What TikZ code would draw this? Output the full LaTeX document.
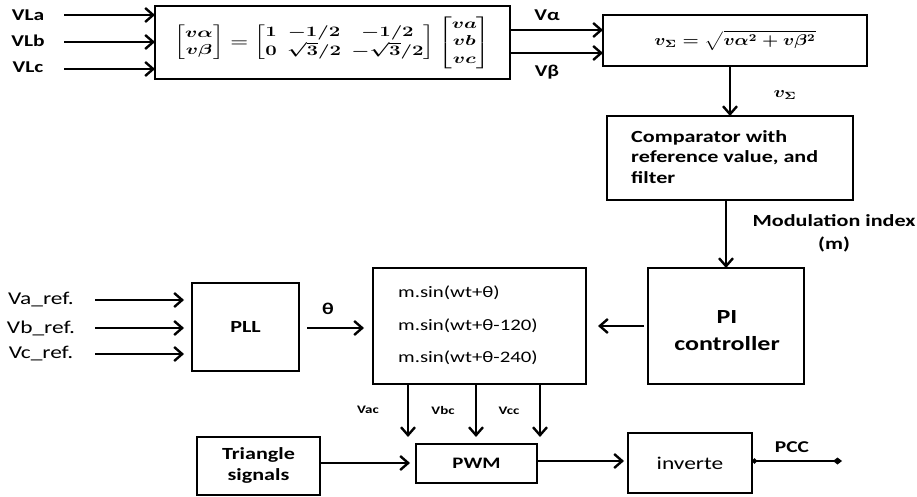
\documentclass[tikz,border=0pt]{standalone}
\usepackage{amsmath}
\usepackage{graphicx}
\usepackage{fontspec}
\setmainfont{Carlito}[FakeStretch=1.3]
\usetikzlibrary{arrows.meta}
\begin{document}
\begin{tikzpicture}[x=1pt,y=-1pt,
  blk/.style={draw,line width=2.4pt,inner sep=0pt,outer sep=0pt},
  lbl/.style={font=\fontsize{16.5}{19}\selectfont\bfseries,inner sep=0pt},
  rlbl/.style={font=\fontsize{18}{21}\selectfont,inner sep=0pt},
  mlbl/.style={font=\fontsize{16}{19}\selectfont,inner sep=0pt},
  slbl/.style={font=\fontsize{11.5}{13}\selectfont\bfseries,inner sep=0pt},
  arr/.style={line width=2.4pt,-{Straight Barb[length=8pt,width=14pt]}}]
\useasboundingbox (0,0) rectangle (917,497);
% top row
\node[blk,minimum width=355pt,minimum height=73pt] (M) at (332.5,42.5)
 {\fontsize{12}{14.4}\selectfont\setlength\arraycolsep{3pt}\scalebox{1.7}[1.2]{\boldmath$\begin{bmatrix} v\alpha\\ v\beta\end{bmatrix}=\begin{bmatrix}1 & -1/2 & -1/2\\ 0 & \sqrt{3}/2 & -\sqrt{3}/2\end{bmatrix}\begin{bmatrix} va\\ vb\\ vc\end{bmatrix}$}};
\node[lbl] (la) at (28,15) {VLa};
\node[lbl] (lb) at (28,41) {VLb};
\node[lbl] (lc) at (28,67) {VLc};
\coordinate (a1) at (64,15);
\coordinate (a2) at (64,42);
\coordinate (a3) at (64,69);
\draw[arr] (a1) -- (a1 -| M.west);
\draw[arr] (a2) -- (a2 -| M.west);
\draw[arr] (a3) -- (a3 -| M.west);
\node[blk,minimum width=264pt,minimum height=51pt] (S) at (735,40.5)
 {\fontsize{12}{14.4}\selectfont\scalebox{1.55}[1.3]{\boldmath$v_{\Sigma}=\sqrt{v\alpha^{2}+v\beta^{2}}$}};
\coordinate (b1) at (510,30);
\coordinate (b2) at (510,53);
\draw[arr] (b1) -- (b1 -| S.west);
\draw[arr] (b2) -- (b2 -| S.west);
\node[lbl] (va) at (547,15) {Vα};
\node[lbl] (vb) at (547,72) {Vβ};
% comparator
\node[blk,minimum width=246pt,minimum height=84pt] (C) at (730,158) {};
\node[lbl,anchor=west,align=left,font=\fontsize{17}{20.5}\selectfont\bfseries] (ct) at (631,157)
 {Comparator with\\reference value, and\\filter};
\draw[arr] (S.south -| C.north) -- (C.north);
\node[inner sep=0pt] (vs) at (785,95) {\fontsize{12}{14.4}\selectfont\scalebox{1.6}[1.3]{\boldmath$v_{\Sigma}$}};
% PI
\node[blk,minimum width=156pt,minimum height=116pt] (PI) at (726,326) {};
\node[lbl,align=center,font=\fontsize{20}{27}\selectfont\bfseries] (pit) at (727,331) {PI\\controller};
\draw[arr] (C.south -| PI.north) -- (PI.north);
\node[lbl,align=center,font=\fontsize{17}{23}\selectfont\bfseries] (mi) at (834,233) {Modulation index\\(m)};
% modulator
\node[blk,minimum width=213pt,minimum height=116pt] (G) at (479.5,326) {};
\node[mlbl,anchor=west] (g1) at (398,293) {m.sin(wt+θ)};
\node[mlbl,anchor=west] (g2) at (398,326) {m.sin(wt+θ-120)};
\node[mlbl,anchor=west] (g3) at (398,358) {m.sin(wt+θ-240)};
\draw[arr,shorten <=4pt,shorten >=12pt] (PI.west) -- (G.east);
% PLL
\node[blk,minimum width=107pt,minimum height=88pt] (P) at (245.5,327)
 {\fontsize{17}{20}\selectfont\bfseries PLL};
\node[rlbl] (ra) at (41,300) {Va\_ref.};
\node[rlbl] (rb) at (41,328) {Vb\_ref.};
\node[rlbl] (rc) at (41,354) {Vc\_ref.};
\coordinate (c1) at (95,300);
\coordinate (c2) at (95,328);
\coordinate (c3) at (95,354);
\draw[arr,shorten >=8pt] (c1) -- (c1 -| P.west);
\draw[arr,shorten >=8pt] (c2) -- (c2 -| P.west);
\draw[arr,shorten >=8pt] (c3) -- (c3 -| P.west);
\coordinate (d1) at (299,328);
\draw[arr,shorten <=8pt,shorten >=9pt] (d1) -- (d1 -| G.west);
\node[lbl] (th) at (328,309) {θ};
% PWM row
\node[blk,minimum width=121pt,minimum height=39pt] (W) at (476.5,463.5)
 {\fontsize{16}{19}\selectfont\bfseries PWM};
\coordinate (e1) at (408,437);
\coordinate (e2) at (476,437);
\coordinate (e3) at (540,437);
\draw[arr] (G.south -| e1) -- (e1);
\draw[arr] (G.south -| e2) -- (e2);
\draw[arr] (G.south -| e3) -- (e3);
\node[slbl] (vac) at (368,410) {Vac};
\node[slbl] (vbc) at (443,411) {Vbc};
\node[slbl] (vcc) at (509,411) {Vcc};
\node[blk,minimum width=123pt,minimum height=58pt] (T) at (258.5,466) {};
\node[lbl,align=center,font=\fontsize{17}{21}\selectfont\bfseries] (tt) at (258.5,465) {Triangle\\signals};
\coordinate (f1) at (320,463);
\draw[arr,shorten >=6pt] (f1) -- (f1 -| W.west);
\node[blk,minimum width=124pt,minimum height=60pt] (I) at (690,463)
 {\fontsize{18}{21}\selectfont inverte};
\coordinate (h1) at (537,461);
\draw[arr,shorten >=4pt] (h1) -- (h1 -| I.west);
\coordinate (pcc) at (842,461);
\draw[line width=1.8pt,{Circle[length=5pt]}-{Diamond[length=9pt,width=7pt]}] (I.east |- pcc) -- (pcc);
\node[lbl] (pl) at (792,447) {PCC};
\end{tikzpicture}
\end{document}
